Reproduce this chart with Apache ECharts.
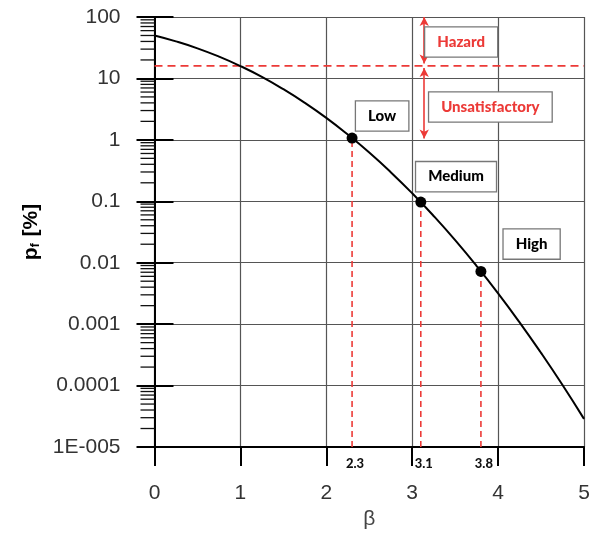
<!DOCTYPE html>
<html><head><meta charset="utf-8">
<script src="https://cdn.jsdelivr.net/npm/echarts@6/dist/echarts.min.js"></script>
<style>html,body{margin:0;padding:0;background:#fff}#c{width:597px;height:533px}</style>
</head><body><div id="c"></div>
<script>
// ---- data ----
const betaValues = [0, 0.25, 0.5, 0.75, 1, 1.25, 1.5, 1.75, 2, 2.25, 2.5, 2.75, 3, 3.25, 3.5, 3.75, 4, 4.25, 4.5, 4.75, 5];
const pfValues = [50, 40.1, 30.9, 22.7, 15.9, 10.6, 6.68, 4.01, 2.28, 1.22, 0.621, 0.298, 0.135, 0.0577, 0.0233, 0.00884, 0.00317, 0.00107, 0.00034, 0.000102, 0.0000287];
const markerBeta = [2.3, 3.1, 3.8];
const markerPf = [1.07, 0.097, 0.0072];
const markerTickLabels = ['2.3', '3.1', '3.8'];
const xTickLabels = ['0', '1', '2', '3', '4', '5'];
const yTickLabels = ['1E-005', '0.0001', '0.001', '0.01', '0.1', '1', '10', '100'];
const yMinExp = -5;
const hazardLimit = 16;
const levelNames = ['Low', 'Medium', 'High'];
const levelAnchors = [[2.65, 2.44], [3.51, 0.252], [4.39, 0.0201]];
const zoneNames = ['Hazard', 'Unsatisfactory'];
const zoneAnchors = [[3.57, 39.2], [3.91, 3.42]];
const zoneArrowBeta = 3.14;
const zoneArrowRanges = [[100, 17.5], [14.8, 1.05]];
const minorMultipliers = [2, 3, 4, 5, 6, 7, 8, 9];
const decadeStarts = [1e-5, 1e-4, 1e-3, 1e-2, 1e-1, 1, 10];

// ---- styles ----
const RED = '#ec3a37';
const AXIS_FONT = "'Liberation Sans', Arial, sans-serif";
const BOX_FONT = "Lato, 'Liberation Sans', sans-serif";

const minorTickValues = [];
decadeStarts.forEach(d => minorMultipliers.forEach(m => minorTickValues.push(d * m)));

const yBase = {
  type: 'log', logBase: 10, min: 1e-5, max: 100, interval: 1, position: 'left', offset: 0
};

const series = [];

// minor log ticks (left of the y axis)
series.push({
  type: 'custom', yAxisIndex: 0, clip: false, silent: true, z: 5,
  data: minorTickValues.map(v => [0, v]),
  renderItem: (params, api) => {
    const p = api.coord([api.value(0), api.value(1)]);
    return { type: 'line', shape: { x1: p[0] - 14, y1: p[1], x2: p[0], y2: p[1] },
      style: { stroke: '#111', lineWidth: 1.3 } };
  }
});

// hazard limit horizontal dashed line
series.push({
  type: 'line', data: [[0, hazardLimit], [5, hazardLimit]], symbol: 'none', silent: true, z: 3,
  lineStyle: { color: RED, width: 1.6, type: [8, 5] }
});

// vertical dashed drop lines
markerBeta.forEach((b, i) => {
  series.push({
    type: 'line', data: [[b, 1e-5], [b, markerPf[i]]], symbol: 'none', silent: true, z: 3,
    lineStyle: { color: RED, width: 1.6, type: [6, 4] }
  });
});

// curve
series.push({
  type: 'line', data: betaValues.map((b, i) => [b, pfValues[i]]), smooth: true,
  symbol: 'none', z: 6, lineStyle: { color: '#000', width: 2 }
});

// markers
series.push({
  type: 'scatter', data: markerBeta.map((b, i) => [b, markerPf[i]]), symbolSize: 11, z: 7,
  itemStyle: { color: '#000', opacity: 1 }
});

// marker tick labels under the axis
series.push({
  type: 'scatter', clip: false, symbolSize: 0, itemStyle: { color: '#fff', opacity: 1 }, z: 7, silent: true,
  data: markerBeta.map((b, i) => ({ value: [b, 1e-5], name: markerTickLabels[i] })),
  label: { show: true, position: 'bottom', distance: 10, offset: [3, 0], formatter: '{b}', opacity: 1,
    fontFamily: BOX_FONT, fontWeight: 900, fontSize: 13, color: '#111' }
});

// arrows
series.push({
  type: 'line', data: [], silent: true,
  markLine: {
    silent: true, symbol: ['arrow', 'arrow'], symbolSize: [7, 9], animation: false,
    label: { show: false },
    lineStyle: { color: RED, width: 1.6, type: 'solid' },
    data: zoneArrowRanges.map(r => [{ coord: [zoneArrowBeta, r[0]] }, { coord: [zoneArrowBeta, r[1]] }])
  }
});

function boxSeries(names, anchors, color) {
  return {
    type: 'scatter', symbolSize: 0, itemStyle: { color: '#fff', opacity: 1 }, z: 8, silent: true,
    data: names.map((n, i) => ({ value: anchors[i], name: n })),
    label: {
      show: true, position: 'inside', formatter: '{b}', opacity: 1,
      fontFamily: BOX_FONT, fontWeight: 900, fontSize: 15, lineHeight: 16, color: color,
      backgroundColor: '#fff', borderColor: '#777', borderWidth: 1.3,
      padding: [7, 12, 6, 12]
    }
  };
}
series.push(boxSeries(levelNames, levelAnchors, '#000'));
series.push(boxSeries(zoneNames, zoneAnchors, RED));

const option = {
  animation: false,
  backgroundColor: '#fff',
  grid: { left: 154.5, right: 13, top: 17, bottom: 86, containLabel: false, outerBoundsMode: 'none' },
  xAxis: [{
    type: 'value', min: 0, max: 5, interval: 1,
    name: 'β', nameLocation: 'middle', nameGap: 62,
    nameTextStyle: { fontFamily: AXIS_FONT, fontSize: 21, color: '#444' },
    axisLine: { show: true, lineStyle: { color: '#000', width: 2 } },
    axisTick: { show: true, inside: false, length: 19, lineStyle: { color: '#000', width: 2 } },
    axisLabel: { margin: 36, fontFamily: AXIS_FONT, fontSize: 21, color: '#333',
      formatter: (v) => xTickLabels[Math.round(v)] },
    splitLine: { show: true, lineStyle: { color: '#555', width: 1.2 } }
  }],
  yAxis: [
    Object.assign({}, yBase, {
      name: '{p|p}{s|f}{p| [%]}', nameLocation: 'middle', nameGap: 112, nameRotate: 90,
      nameTextStyle: {
        rich: {
          p: { fontFamily: AXIS_FONT, fontSize: 21, fontWeight: 'bold', color: '#000' },
          s: { fontFamily: AXIS_FONT, fontSize: 12, fontWeight: 'bold', color: '#000', padding: [10, 1, 0, 0] }
        }
      },
      axisLine: { show: true, lineStyle: { color: '#000', width: 2 } },
      axisTick: { show: true, inside: false, length: 18, lineStyle: { color: '#000', width: 2 } },
      axisLabel: { margin: 34, fontFamily: AXIS_FONT, fontSize: 21, color: '#333',
        formatter: (v) => yTickLabels[Math.round(Math.log10(v)) - yMinExp] },
      splitLine: { show: true, lineStyle: { color: '#555', width: 1.2 } }
    }),
    Object.assign({}, yBase, {
      axisLine: { show: false },
      axisTick: { show: true, inside: true, length: 19, lineStyle: { color: '#000', width: 2 } },
      axisLabel: { show: false },
      splitLine: { show: false }
    })
  ],
  series: series
};

const chart = echarts.init(document.getElementById('c'), null, { renderer: 'canvas' });
chart.setOption(option);
</script>
</body></html>
